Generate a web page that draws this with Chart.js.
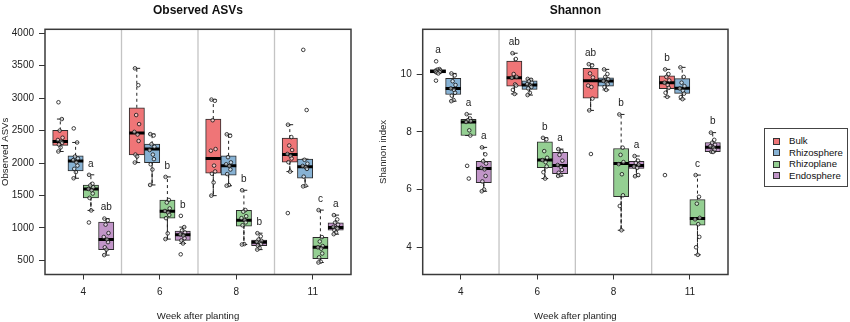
<!DOCTYPE html>
<html>
<head>
<meta charset="utf-8">
<script src="https://cdn.jsdelivr.net/npm/chart.js@4"></script>
<style>
  body { margin: 0; width: 850px; height: 322px; position: relative; background: #fff; font-family: 'Liberation Sans', Arial, sans-serif; }
  .panel { position: absolute; top: 0; }
  #legend { position: absolute; left: 764px; top: 128px; width: 84px; height: 59px; box-sizing: border-box; border: 1px solid #444; padding-top: 6px; }
  #legend div { height: 11.5px; line-height: 11.5px; font-size: 9.6px; color: #111; position: relative; padding-left: 24px; }
  #legend span { position: absolute; left: 8px; top: 2.5px; width: 5px; height: 5px; border: 1px solid #333; }
</style>
</head>
<body>
<div class="panel" style="left:0"><canvas id="asv" width="360" height="322"></canvas></div>
<div class="panel" style="left:360px"><canvas id="shannon" width="380" height="322"></canvas></div>
<div id="legend"></div>
<script>
const weeks = ['4', '6', '8', '11'];
const groups = ['Bulk', 'Rhizosphere', 'Rhizoplane', 'Endosphere'];
const colors = ['#EF7577', '#87B2D4', '#94CF92', '#C195C8'];

// box stats per week: [lower whisker, Q1, median, Q3, upper whisker]
const asvBulkBox = [[2178, 2271, 2333, 2503, 2678], [2007, 2124, 2462, 2852, 3460], [1497, 1843, 2068, 2678, 2978], [1868, 2013, 2131, 2384, 2591]];
const asvRhizosphereBox = [[1765, 1878, 2033, 2111, 2317], [1662, 2005, 2217, 2291, 2446], [1650, 1812, 1957, 2111, 2443], [1642, 1765, 1941, 2060, 2060]];
const asvRhizoplaneBox = [[1269, 1462, 1599, 1658, 1818], [827, 1150, 1258, 1429, 1786], [743, 1027, 1118, 1269, 1580], [466, 526, 703, 855, 1274]];
const asvEndosphereBox = [[580, 665, 822, 1090, 1143], [760, 806, 893, 950, 1012], [665, 727, 779, 810, 918], [903, 965, 1006, 1078, 1197]];

// samples per week
const asvBulkPts = [[2937, 2678, 2500, 2390, 2355, 2330, 2310, 2285, 2240, 2178], [3460, 3200, 2740, 2600, 2480, 2440, 2340, 2130, 2100, 2007], [2978, 2960, 2660, 2215, 2190, 1960, 1870, 1835, 1700, 1497], [2591, 2400, 2270, 2200, 2140, 2110, 2070, 2013, 1868, 1228]];
const asvRhizospherePts = [[2534, 2317, 2100, 2070, 2045, 2010, 1960, 1910, 1860, 1765], [2446, 2425, 2290, 2250, 2200, 2130, 2060, 1980, 1900, 1662], [2443, 2420, 2090, 2010, 1980, 1955, 1900, 1830, 1660, 1650], [3745, 2817, 2050, 1990, 1955, 1935, 1910, 1790, 1650, 1640]];
const asvRhizoplanePts = [[1818, 1680, 1655, 1625, 1600, 1580, 1530, 1462, 1269, 1083], [1786, 1430, 1390, 1300, 1260, 1235, 1200, 1150, 915, 827], [1580, 1275, 1250, 1180, 1150, 1120, 1085, 1040, 750, 743], [1274, 858, 790, 720, 700, 680, 605, 545, 480, 466]];
const asvEndospherePts = [[1143, 1115, 1050, 920, 860, 820, 780, 700, 665, 580], [1185, 1012, 960, 930, 900, 880, 840, 806, 760, 592], [918, 870, 820, 800, 785, 770, 750, 727, 690, 665], [1197, 1130, 1080, 1050, 1015, 1000, 990, 965, 930, 903]];

const shBulkBox = [[10.02, 10.04, 10.09, 10.15, 10.17], [9.31, 9.58, 9.87, 10.45, 10.72], [8.74, 9.16, 9.77, 10.20, 10.34], [9.21, 9.49, 9.70, 9.94, 10.16]];
const shRhizosphereBox = [[9.06, 9.29, 9.50, 9.85, 10.02], [9.27, 9.47, 9.62, 9.76, 9.83], [9.45, 9.58, 9.76, 9.87, 10.16], [9.13, 9.33, 9.51, 9.84, 10.23]];
const shRhizoplaneBox = [[7.87, 7.87, 8.34, 8.43, 8.61], [6.38, 6.76, 7.02, 7.65, 7.79], [4.59, 5.75, 6.90, 7.42, 8.60], [3.74, 4.77, 5.00, 5.65, 6.50]];
const shEndosphereBox = [[5.94, 6.24, 6.73, 6.98, 7.46], [6.47, 6.55, 6.83, 7.29, 7.40], [6.46, 6.73, 6.83, 6.98, 7.16], [7.30, 7.31, 7.46, 7.63, 7.97]];

const shBulkPts = [[10.44, 10.17, 10.15, 10.12, 10.10, 10.09, 10.07, 10.05, 10.02, 9.77], [10.72, 10.52, 10.0, 9.9, 9.87, 9.64, 9.6, 9.45, 9.31], [10.34, 10.3, 10.02, 9.88, 9.6, 9.55, 9.15, 8.74, 7.23], [10.16, 10.0, 9.9, 9.78, 9.7, 9.62, 9.52, 9.35, 9.21, 6.5]];
const shRhizospherePts = [[10.02, 9.95, 9.75, 9.62, 9.5, 9.45, 9.35, 9.25, 9.1, 9.06], [9.83, 9.8, 9.75, 9.7, 9.65, 9.6, 9.55, 9.5, 9.35, 9.27], [10.16, 10.0, 9.9, 9.82, 9.76, 9.7, 9.65, 9.55, 9.45], [10.23, 9.9, 9.7, 9.58, 9.5, 9.42, 9.32, 9.2, 9.13]];
const shRhizoplanePts = [[8.61, 8.46, 8.4, 8.37, 8.34, 8.05, 7.87, 6.82, 6.38], [7.79, 7.74, 7.33, 7.1, 7.02, 6.95, 6.8, 6.6, 6.38], [8.6, 7.45, 7.2, 6.95, 6.88, 6.53, 5.8, 5.43, 4.59], [6.5, 5.75, 5.51, 5.02, 4.97, 4.8, 4.36, 4.0, 3.74]];
const shEndospherePts = [[7.46, 7.22, 6.98, 6.9, 6.75, 6.7, 6.47, 6.28, 6.0, 5.94], [7.4, 7.32, 7.2, 7.0, 6.85, 6.78, 6.68, 6.58, 6.5, 6.47], [7.16, 7.0, 6.92, 6.86, 6.8, 6.75, 6.5, 6.46], [7.97, 7.72, 7.62, 7.55, 7.5, 7.45, 7.38, 7.31, 7.3]];

// significance letters (null = no letter for that group)
const asvLetters = [null, null, ['a', 'b', 'b', 'c'], ['ab', 'b', 'b', 'a']];
const shLetters = [['a', 'ab', 'ab', 'b'], null, ['a', 'b', 'b', 'c'], ['a', 'a', 'a', 'b']];

const asvTicks = [500, 1000, 1500, 2000, 2500, 3000, 3500, 4000];
const shTicks = [4, 6, 8, 10];

// horizontal strip jitter for the dots
const jitter = [-0.12, 0.1, -0.04, 0.15, -0.16, 0.05, 0.12, -0.09, 0.02, -0.13];

Chart.defaults.font.family = "'Liberation Sans', Arial, sans-serif";
Chart.defaults.color = '#111';

const cap = 0.22;
const pos = (k, g) => k * 5 + g + 1;

function buildDatasets(boxes, points) {
  const ds = [];
  const whisk = [], meds = [], dots = [];
  boxes.forEach((gBoxes, g) => {
    ds.push({
      type: 'bar',
      label: groups[g],
      data: gBoxes.map((b, k) => ({ x: pos(k, g), y: [b[1], b[3]] })),
      backgroundColor: colors[g],
      borderColor: '#2a2a2a',
      borderWidth: 1,
      borderSkipped: false,
      grouped: false,
      barPercentage: 1,
      categoryPercentage: 1,
      order: 4
    });
    gBoxes.forEach((b, k) => {
      const x = pos(k, g);
      whisk.push({ x, y: b[3] }, { x, y: b[4] }, { x, y: null },
        { x: x - cap, y: b[4] }, { x: x + cap, y: b[4] }, { x, y: null },
        { x, y: b[1] }, { x, y: b[0] }, { x, y: null },
        { x: x - cap, y: b[0] }, { x: x + cap, y: b[0] }, { x, y: null });
      meds.push({ x: x - 0.5, y: b[2] }, { x: x + 0.5, y: b[2] }, { x, y: null });
      points[g][k].forEach((v, i) => dots.push({ x: x + jitter[i % jitter.length], y: v }));
    });
  });
  ds.push({
    type: 'line', label: 'whiskers', data: whisk, borderColor: '#222', borderWidth: 1,
    pointRadius: 0, spanGaps: false, order: 3,
    segment: { borderDash: c => Math.abs(c.p0.x - c.p1.x) < 0.5 ? [3, 3] : undefined }
  });
  ds.push({
    type: 'line', label: 'medians', data: meds, borderColor: '#000', borderWidth: 3,
    borderCapStyle: 'butt', pointRadius: 0, spanGaps: false, order: 2
  });
  ds.push({
    type: 'scatter', label: 'samples', data: dots, pointRadius: 1.8, borderWidth: 0.8,
    borderColor: '#111', backgroundColor: 'rgba(255,255,255,0.55)', order: 1
  });
  return ds;
}

const framePlugin = {
  id: 'frame',
  beforeDatasetsDraw(chart) {
    const { ctx, chartArea: a, scales: { x } } = chart;
    ctx.save();
    ctx.strokeStyle = '#c4c4c4';
    ctx.lineWidth = 1.3;
    [5, 10, 15].forEach(v => {
      const px = x.getPixelForValue(v);
      ctx.beginPath();
      ctx.moveTo(px, a.top);
      ctx.lineTo(px, a.bottom);
      ctx.stroke();
    });
    ctx.restore();
  },
  afterDatasetsDraw(chart, args, opts) {
    const { ctx, chartArea: a, scales: { x, y } } = chart;
    ctx.save();
    ctx.fillStyle = '#222';
    ctx.font = "10px 'Liberation Sans', Arial, sans-serif";
    ctx.textAlign = 'center';
    ctx.textBaseline = 'middle';
    opts.letters.forEach((row, g) => {
      if (!row) return;
      row.forEach((t, k) => {
        const top = Math.max(...opts.points[g][k]);
        ctx.fillText(t, x.getPixelForValue(pos(k, g)), y.getPixelForValue(top) - 11);
      });
    });
    ctx.strokeStyle = '#3a3a3a';
    ctx.lineWidth = 1.5;
    ctx.strokeRect(a.left, a.top, a.right - a.left, a.bottom - a.top);
    ctx.restore();
  }
};

function makePanel(id, cfg) {
  new Chart(document.getElementById(id), {
    type: 'bar',
    data: { datasets: buildDatasets(cfg.boxes, cfg.points) },
    plugins: [framePlugin],
    options: {
      responsive: false,
      animation: false,
      layout: { padding: { left: 0, right: cfg.padRight, top: 0, bottom: 0 } },
      plugins: {
        legend: { display: false },
        tooltip: { enabled: false },
        title: {
          display: true, text: cfg.title, fullSize: false, color: '#111',
          font: { size: 12, weight: 'bold' }, padding: { top: 3, bottom: 11.9 }
        },
        frame: { letters: cfg.letters, points: cfg.points }
      },
      scales: {
        x: {
          type: 'linear', min: 0, max: 20, offset: false,
          afterBuildTicks: s => { s.ticks = weeks.map((w, k) => ({ value: k * 5 + 2.5 })); },
          afterFit: s => { s.height = 47.5; },
          ticks: { callback: (v, i) => weeks[i], font: { size: 10 }, color: '#222', padding: 7, maxRotation: 0, autoSkip: false },
          grid: { offset: false, drawOnChartArea: false, tickLength: 5, color: '#333' },
          border: { display: false },
          title: { display: true, text: 'Week after planting', font: { size: 9.6 }, color: '#222', padding: { top: 0, bottom: 0 } }
        },
        y: {
          type: 'linear', min: cfg.yMin, max: cfg.yMax, beginAtZero: false,
          afterBuildTicks: s => { s.ticks = cfg.yTicks.map(v => ({ value: v })); },
          afterFit: s => { s.width = cfg.yWidth; },
          ticks: { callback: v => String(v), font: { size: 10 }, color: '#222', padding: 5 },
          grid: { drawOnChartArea: false, tickLength: 6, color: '#333' },
          border: { display: false },
          title: { display: true, text: cfg.yTitle, font: { size: 9.6 }, color: '#222', padding: { top: cfg.yTitlePad, bottom: 0 } }
        }
      }
    }
  });
}

makePanel('asv', {
  title: 'Observed ASVs', yTitle: 'Observed ASVs',
  boxes: [asvBulkBox, asvRhizosphereBox, asvRhizoplaneBox, asvEndosphereBox],
  points: [asvBulkPts, asvRhizospherePts, asvRhizoplanePts, asvEndospherePts],
  letters: asvLetters, yTicks: asvTicks, yMin: 281, yMax: 4062,
  yWidth: 45, yTitlePad: 0, padRight: 9
});

makePanel('shannon', {
  title: 'Shannon', yTitle: 'Shannon index',
  boxes: [shBulkBox, shRhizosphereBox, shRhizoplaneBox, shEndosphereBox],
  points: [shBulkPts, shRhizospherePts, shRhizoplanePts, shEndospherePts],
  letters: shLetters, yTicks: shTicks, yMin: 3.058, yMax: 11.548,
  yWidth: 62.7, yTitlePad: 17.5, padRight: 12
});

const legend = document.getElementById('legend');
groups.forEach((g, i) => {
  const row = document.createElement('div');
  const sw = document.createElement('span');
  sw.style.background = colors[i];
  row.appendChild(sw);
  row.appendChild(document.createTextNode(g));
  legend.appendChild(row);
});
</script>
</body>
</html>
